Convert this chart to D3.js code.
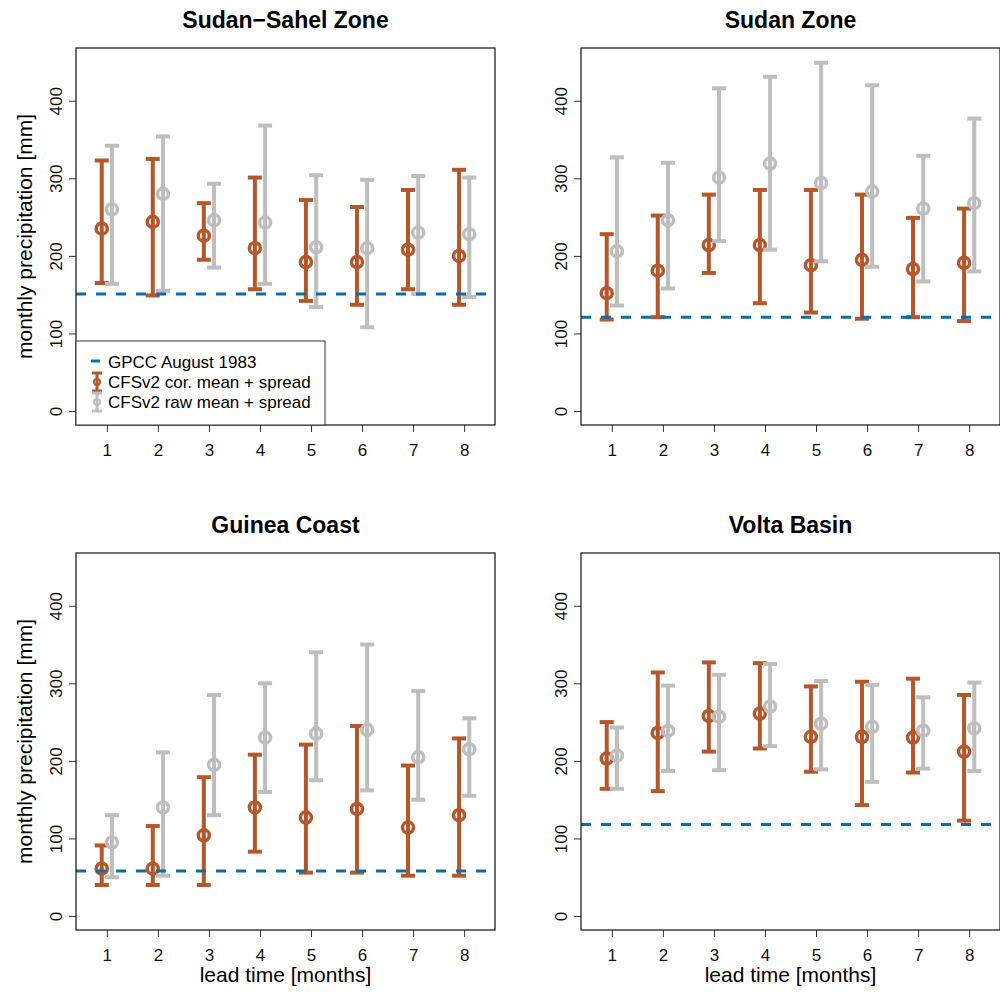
<!DOCTYPE html>
<html>
<head>
<meta charset="utf-8">
<script src="https://cdn.jsdelivr.net/npm/d3@7"></script>
<style>
  body { margin: 0; background: #fff; }
  svg { font-family: "Liberation Sans", Arial, Helvetica, sans-serif; }
</style>
</head>
<body>
<svg id="chart" width="1000" height="993"></svg>
<script>
// lead times and y ticks
const leadTimes = [1, 2, 3, 4, 5, 6, 7, 8];
const yTicks = [0, 100, 200, 300, 400];

// Sudan-Sahel Zone
const sahelCorMean = [235, 244, 226, 210, 192, 192, 208, 200];
const sahelCorLo   = [165, 149, 195, 157, 142, 137, 157, 137];
const sahelCorHi   = [323, 325, 268, 301, 272, 263, 285, 311];
const sahelRawMean = [260, 280, 246, 243, 211, 210, 230, 228];
const sahelRawLo   = [164, 155, 185, 164, 134, 108, 151, 147];
const sahelRawHi   = [342, 354, 293, 368, 304, 298, 303, 301];
const sahelGpcc = 151;

// Sudan Zone
const sudanCorMean = [152, 181, 214, 214, 188, 195, 183, 191];
const sudanCorLo   = [118, 121, 178, 139, 127, 119, 121, 116];
const sudanCorHi   = [228, 252, 279, 285, 285, 279, 249, 261];
const sudanRawMean = [206, 246, 301, 319, 294, 283, 261, 268];
const sudanRawLo   = [136, 158, 219, 208, 193, 186, 167, 180];
const sudanRawHi   = [327, 320, 416, 431, 449, 420, 329, 377];
const sudanGpcc = 121;

// Guinea Coast
const guineaCorMean = [61, 61, 104, 140, 127, 138, 114, 130];
const guineaCorLo   = [40, 40, 40, 83, 56, 56, 52, 52];
const guineaCorHi   = [91, 116, 179, 208, 221, 245, 194, 229];
const guineaRawMean = [95, 140, 195, 230, 235, 240, 205, 215];
const guineaRawLo   = [50, 52, 130, 160, 175, 162, 150, 155];
const guineaRawHi   = [130, 211, 285, 300, 340, 350, 290, 255];
const guineaGpcc = 58;

// Volta Basin
const voltaCorMean = [203, 236, 258, 261, 231, 231, 230, 212];
const voltaCorLo   = [164, 161, 212, 216, 186, 143, 185, 123];
const voltaCorHi   = [250, 314, 327, 326, 296, 302, 306, 285];
const voltaRawMean = [207, 239, 257, 270, 248, 244, 239, 242];
const voltaRawLo   = [164, 187, 188, 219, 189, 173, 190, 187];
const voltaRawHi   = [243, 297, 311, 325, 303, 298, 282, 301];
const voltaGpcc = 118;

const panels = [
  { title: "Sudan\u2212Sahel Zone", left: 76, top: 48, ylab: true, xlab: false, legend: true,
    cor: [sahelCorMean, sahelCorLo, sahelCorHi], raw: [sahelRawMean, sahelRawLo, sahelRawHi], gpcc: sahelGpcc },
  { title: "Sudan Zone", left: 581, top: 48, ylab: false, xlab: false, legend: false,
    cor: [sudanCorMean, sudanCorLo, sudanCorHi], raw: [sudanRawMean, sudanRawLo, sudanRawHi], gpcc: sudanGpcc },
  { title: "Guinea Coast", left: 76, top: 553, ylab: true, xlab: true, legend: false,
    cor: [guineaCorMean, guineaCorLo, guineaCorHi], raw: [guineaRawMean, guineaRawLo, guineaRawHi], gpcc: guineaGpcc },
  { title: "Volta Basin", left: 581, top: 553, ylab: false, xlab: true, legend: false,
    cor: [voltaCorMean, voltaCorLo, voltaCorHi], raw: [voltaRawMean, voltaRawLo, voltaRawHi], gpcc: voltaGpcc }
];

const corColor = "#b5562b";
const rawColor = "#bebebe";
const gpccColor = "#0a6ead";
const width = 419, height = 377;

const svg = d3.select("#chart");

let xScale = d3.scaleLinear().domain([0.396, 8.604]).range([0, width]);
let yScale = d3.scaleLinear().domain([-18, 468]).range([height, 0]);

function errorBars(g, series, offset, color) {
  let mean = series[0], lo = series[1], hi = series[2];
  let items = g.append("g").selectAll("g")
    .data(leadTimes)
    .enter().append("g")
      .attr("transform", (d) => `translate(${xScale(d + offset)},0)`);

  items.append("line")
    .attr("y1", (d, i) => yScale(lo[i]))
    .attr("y2", (d, i) => yScale(hi[i]))
    .attr("stroke", color).attr("stroke-width", 4);
  items.append("line")
    .attr("x1", -7).attr("x2", 7)
    .attr("y1", (d, i) => yScale(hi[i])).attr("y2", (d, i) => yScale(hi[i]))
    .attr("stroke", color).attr("stroke-width", 4);
  items.append("line")
    .attr("x1", -7).attr("x2", 7)
    .attr("y1", (d, i) => yScale(lo[i])).attr("y2", (d, i) => yScale(lo[i]))
    .attr("stroke", color).attr("stroke-width", 4);
  items.append("circle")
    .attr("cy", (d, i) => yScale(mean[i]))
    .attr("r", 5.5)
    .attr("fill", "none")
    .attr("stroke", color).attr("stroke-width", 3.5);
}

panels.forEach(function(p) {
  let chart = svg.append("g").attr("transform", `translate(${p.left},${p.top})`);

  // title
  chart.append("text")
    .attr("x", width / 2).attr("y", -20)
    .attr("text-anchor", "middle")
    .attr("font-size", 23).attr("font-weight", "bold")
    .text(p.title);

  // clip
  let clipId = "clip" + p.left + "_" + p.top;
  chart.append("clipPath").attr("id", clipId)
    .append("rect").attr("width", width).attr("height", height);
  let plot = chart.append("g").attr("clip-path", `url(#${clipId})`);

  errorBars(plot, p.cor, -0.1, corColor);
  errorBars(plot, p.raw, 0.1, rawColor);

  plot.append("line")
    .attr("x1", 0).attr("x2", width)
    .attr("y1", yScale(p.gpcc)).attr("y2", yScale(p.gpcc))
    .attr("stroke", gpccColor).attr("stroke-width", 3)
    .attr("stroke-dasharray", "10,10");

  // axes
  let yAxis = chart.append("g")
    .call(d3.axisLeft(yScale).tickValues(yTicks).tickSize(7).tickFormat(d3.format("d")));
  yAxis.select(".domain").remove();
  yAxis.selectAll("line").attr("stroke", "#333");
  yAxis.selectAll("text")
    .attr("x", 0).attr("dy", 0)
    .attr("transform", "translate(-14,0) rotate(-90)")
    .attr("text-anchor", "middle")
    .attr("font-size", 17).attr("font-family", null).attr("fill", "#111");

  let xAxis = chart.append("g")
    .attr("transform", `translate(0,${height})`)
    .call(d3.axisBottom(xScale).tickValues(leadTimes).tickSize(7).tickFormat(d3.format("d")));
  xAxis.select(".domain").remove();
  xAxis.selectAll("line").attr("stroke", "#333");
  xAxis.selectAll("text")
    .attr("y", 31).attr("dy", 0)
    .attr("font-size", 17).attr("font-family", null).attr("fill", "#111");

  chart.append("rect")
    .attr("width", width).attr("height", height)
    .attr("fill", "none").attr("stroke", "#111").attr("stroke-width", 1.2);

  if (p.ylab) {
    chart.append("text")
      .attr("transform", `translate(-44,${height / 2}) rotate(-90)`)
      .attr("text-anchor", "middle")
      .attr("font-size", 21)
      .text("monthly precipitation [mm]");
  }
  if (p.xlab) {
    chart.append("text")
      .attr("x", width / 2).attr("y", height + 52)
      .attr("text-anchor", "middle")
      .attr("font-size", 21)
      .text("lead time [months]");
  }

  if (p.legend) {
    let lg = chart.append("g").attr("transform", `translate(0,${height - 84})`);
    lg.append("rect")
      .attr("width", 249).attr("height", 84)
      .attr("fill", "white").attr("stroke", "#333").attr("stroke-width", 1);
    lg.append("line")
      .attr("x1", 15).attr("x2", 24).attr("y1", 20).attr("y2", 20)
      .attr("stroke", gpccColor).attr("stroke-width", 3);
    let sym = [[corColor, 41], [rawColor, 61]];
    sym.forEach(function(s) {
      let sg = lg.append("g").attr("transform", `translate(21,${s[1]})`);
      sg.append("line").attr("y1", -9).attr("y2", 9).attr("stroke", s[0]).attr("stroke-width", 3);
      sg.append("line").attr("x1", -5).attr("x2", 5).attr("y1", -9).attr("y2", -9).attr("stroke", s[0]).attr("stroke-width", 3);
      sg.append("line").attr("x1", -5).attr("x2", 5).attr("y1", 9).attr("y2", 9).attr("stroke", s[0]).attr("stroke-width", 3);
      sg.append("circle").attr("r", 3).attr("fill", "none").attr("stroke", s[0]).attr("stroke-width", 2);
    });
    let labels = ["GPCC August 1983", "CFSv2 cor. mean + spread", "CFSv2 raw mean + spread"];
    lg.selectAll("text.lab").data(labels).enter().append("text")
      .attr("class", "lab")
      .attr("x", 32).attr("y", (d, i) => 27 + i * 20)
      .attr("font-size", 17)
      .text((d) => d);
  }
});
</script>
</body>
</html>
